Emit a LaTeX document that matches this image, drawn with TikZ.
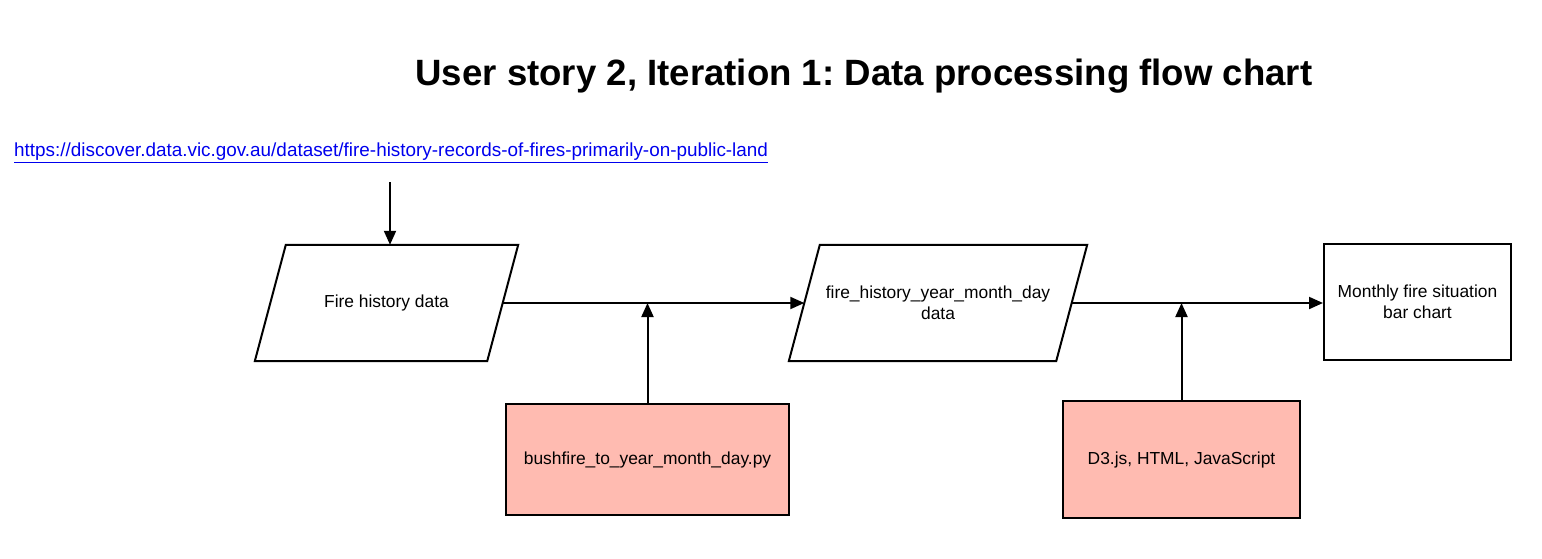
\documentclass[tikz,border=0pt]{standalone}
\usepackage{fontspec}
\setmainfont{Liberation Sans}
\usetikzlibrary{arrows.meta}
\frenchspacing
\definecolor{pinkfill}{RGB}{255,187,177}
\definecolor{linkblue}{RGB}{0,0,238}
\tikzset{
  line/.style={line width=2pt, draw=black, line join=miter},
  arr/.style={line width=2pt, draw=black, -{Triangle[length=14pt,width=12pt]}},
  bodyfont/.style={font=\fontsize{17.4}{21}\selectfont},
  paratext/.style={rectangle, minimum height=116pt, inner sep=0pt, bodyfont, align=center},
  whitebox/.style={rectangle, draw=black, line width=2pt, minimum width=187pt, minimum height=116pt,
    inner sep=0pt, bodyfont, align=center},
  pinkbox/.style={rectangle, draw=black, fill=pinkfill, line width=2pt, inner sep=0pt,
    bodyfont, align=center},
}
\begin{document}
\begin{tikzpicture}[x=1pt,y=-1pt]
\useasboundingbox (0,0) rectangle (1542,559);
\node[font=\bfseries\fontsize{36.6}{40}\selectfont] (title) at (864,76) {User story 2, Iteration 1: Data processing flow chart};
\node[anchor=base west, inner sep=0pt, text=linkblue, font=\fontsize{18.9}{22}\selectfont] (url) at (14,157)
  {\underline{https://discover.data.vic.gov.au/dataset/fire-history-records-of-fires-primarily-on-public-land}};
\coordinate (u) at (390,182);
\node[paratext, minimum width=232pt] (p1) at (386.5,303) {Fire history data};
\draw[line] ([xshift=15.5pt]p1.north west) -- ([xshift=15.5pt]p1.north east)
  -- ([xshift=-15.5pt]p1.south east) -- ([xshift=-15.5pt]p1.south west) -- cycle;
\node[paratext, minimum width=267pt] (p2) at (938,303) {fire\_history\_year\_month\_day\\data};
\draw[line] ([xshift=15.5pt]p2.north west) -- ([xshift=15.5pt]p2.north east)
  -- ([xshift=-15.5pt]p2.south east) -- ([xshift=-15.5pt]p2.south west) -- cycle;
\node[whitebox] (out) at (1417.5,302) {Monthly fire situation\\bar chart};
\node[pinkbox, minimum width=283pt, minimum height=111pt] (s1) at (647.5,459.5) {bushfire\_to\_year\_month\_day.py};
\node[pinkbox, minimum width=237pt, minimum height=117pt] (s2) at (1181.5,459.5) {D3.js, HTML, JavaScript};
\draw[arr] (u) -- ([xshift=3.5pt]p1.north);
\draw[arr] (p1.east) -- (p2.west);
\draw[arr] (p2.east) -- (out.west |- p2.east);
\draw[arr] (s1.north) -- (s1.north |- p1.east);
\draw[arr] (s2.north) -- (s2.north |- p2.east);
\end{tikzpicture}
\end{document}
